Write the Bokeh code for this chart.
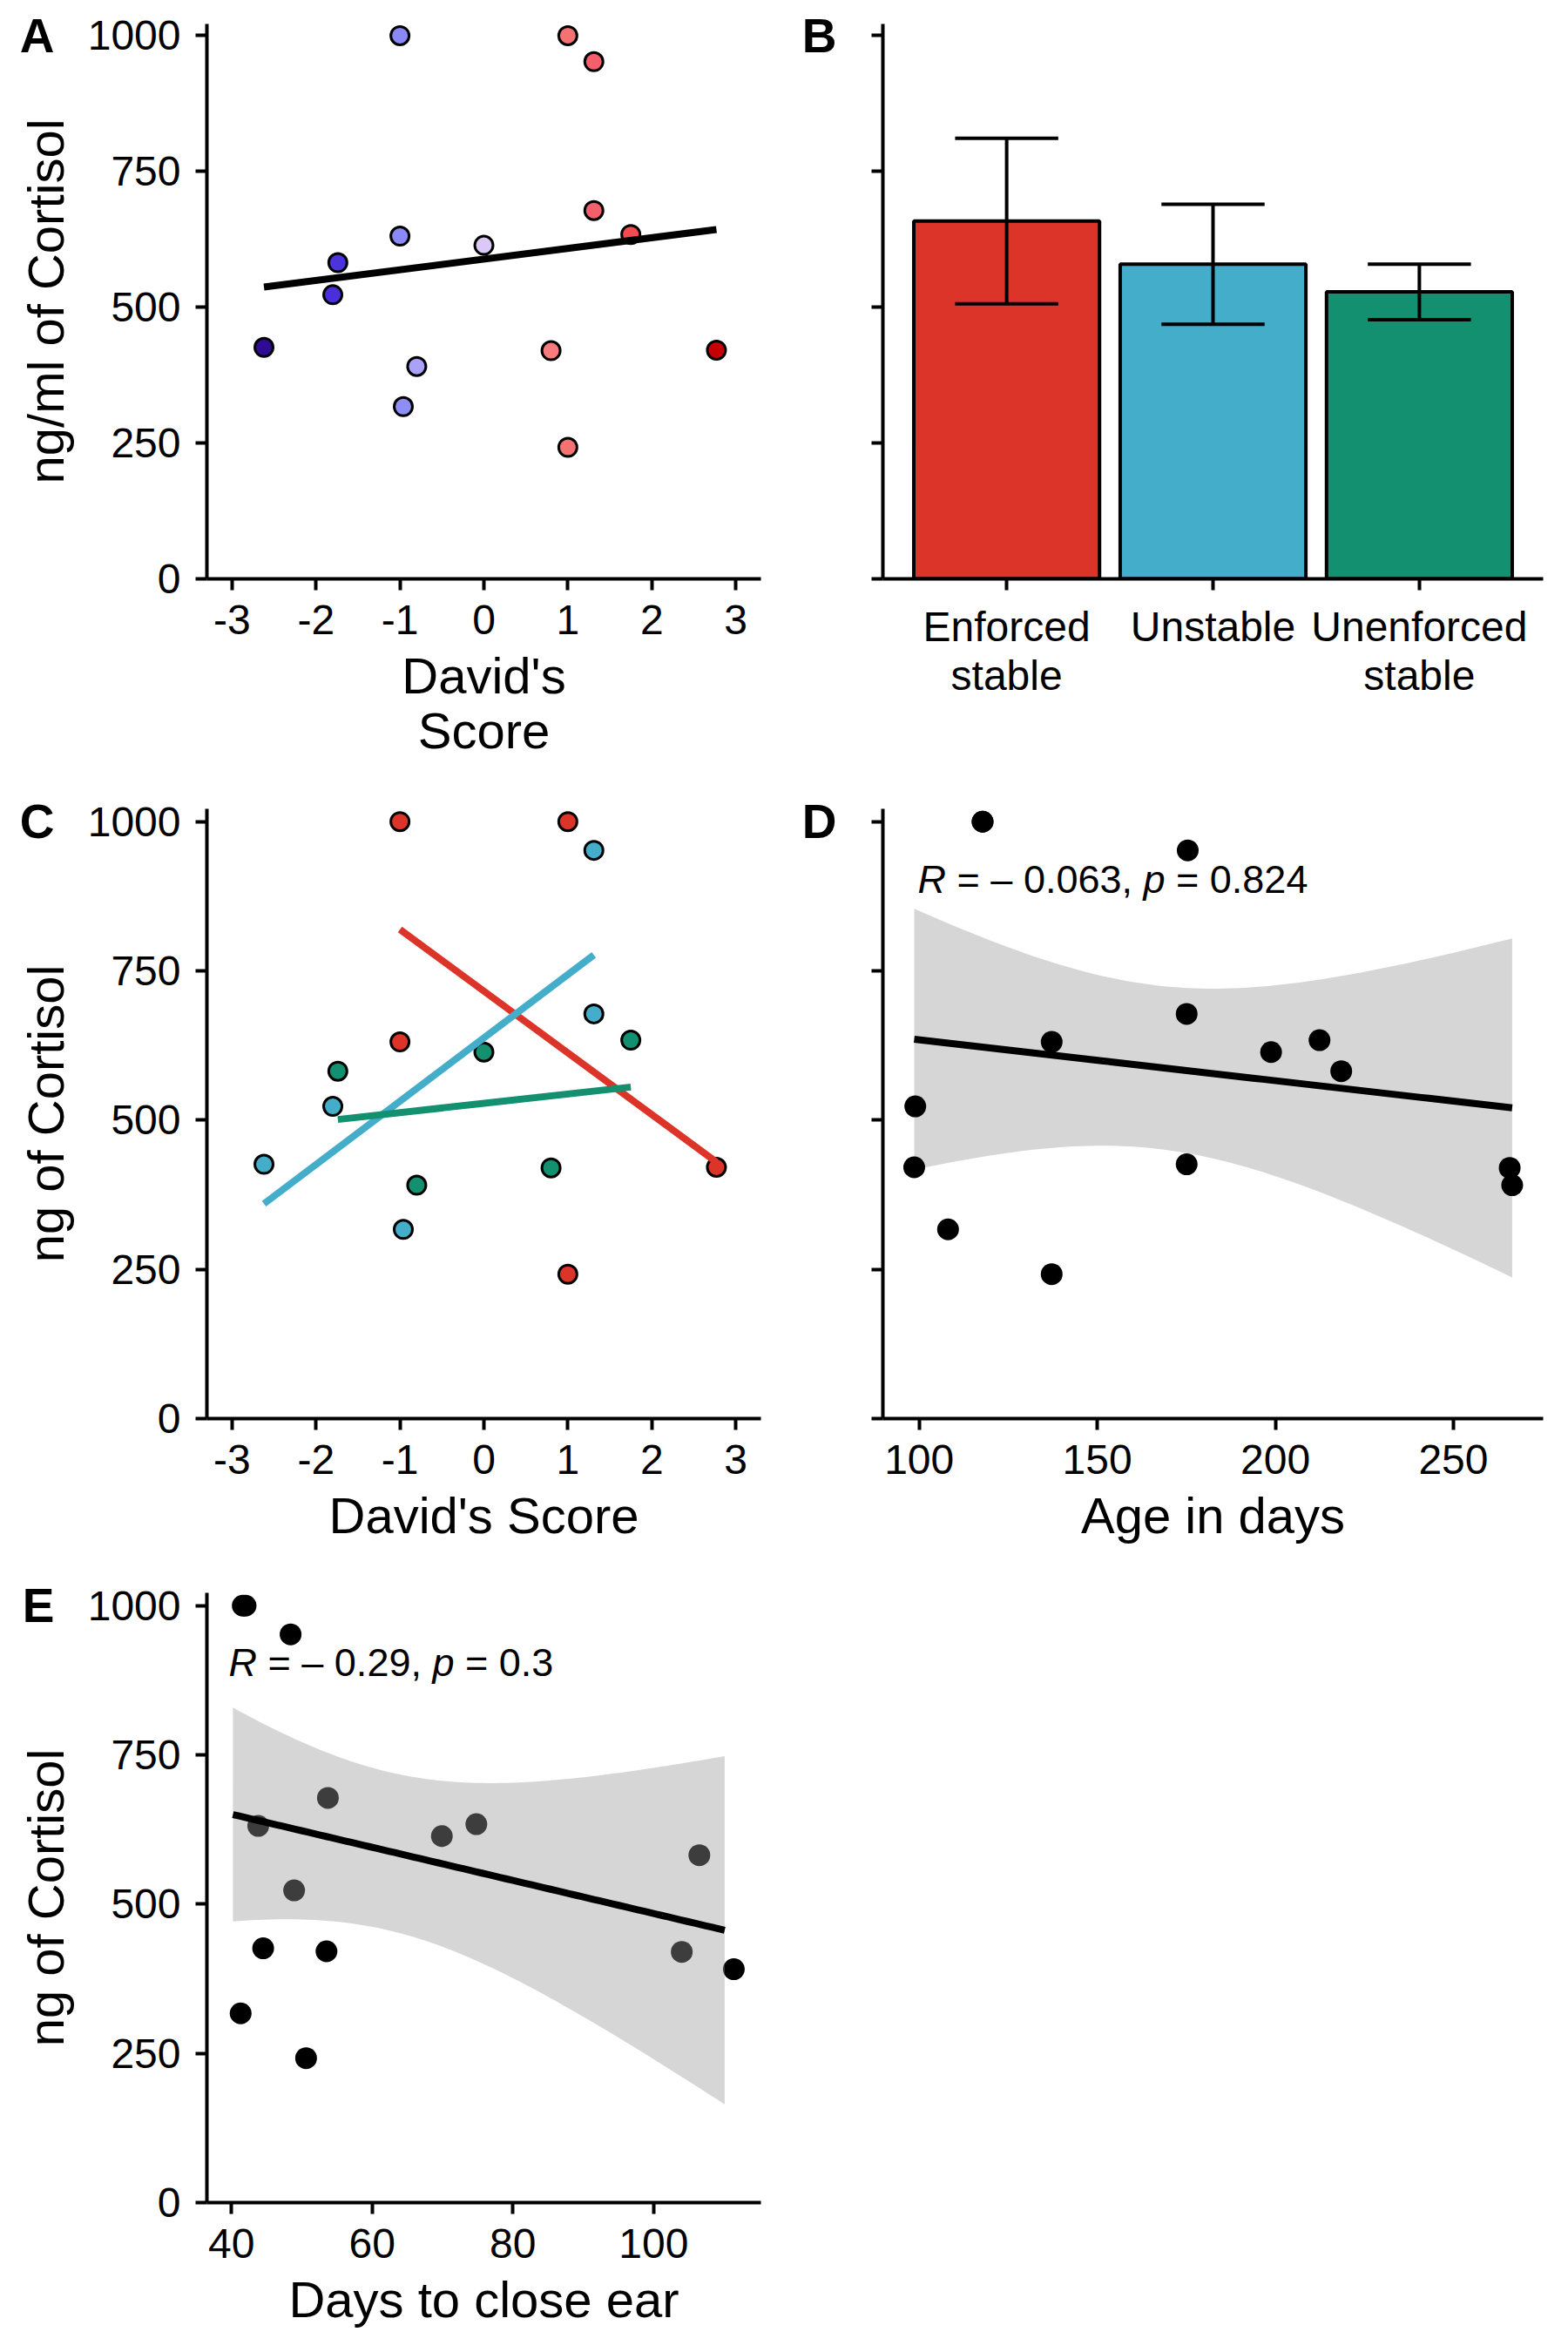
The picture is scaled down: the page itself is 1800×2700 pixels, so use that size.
import numpy as np
from bokeh.plotting import figure
from bokeh.layouts import column, row
from bokeh.models import (Range1d, FactorRange, FixedTicker, ColumnDataSource,
                          LinearColorMapper, CustomJSTickFormatter, LinearAxis)
from bokeh.transform import dodge, factor_cmap, transform
from bokeh.core.properties import value
from bokeh.embed import file_html
from bokeh.resources import INLINE

# ---------------- data ----------------
group_names = ["Enforced stable", "Unstable", "Unenforced stable"]
group_labels = ["Enforced\nstable", "Unstable", "Unenforced\nstable"]

group = ["Enforced stable"] * 5 + ["Unstable"] * 5 + ["Unenforced stable"] * 5
davids_score = [-1.00, 1.00, -1.00, 1.00, 2.77,
                -2.62, -1.80, -0.96, 1.31, 1.31,
                -1.74, -0.80, 0.00, 0.80, 1.75]
cortisol = [1000, 1000, 631, 242, 421,
            426, 523, 317, 952, 678,
            582, 391, 614, 420, 634]
age_days = [117.8, 117.8, 137.2, 137.2, 98.6,
            175.1, 98.9, 108.1, 175.4, 175.1,
            218.5, 266.5, 198.8, 265.8, 212.4]
days_close_ear = [41.6, 42.0, 43.8, 50.6, 53.5,
                  44.5, 48.9, 41.3, 48.4, 53.7,
                  106.5, 111.4, 69.9, 104.0, 74.8]

y_ticks = [0, 250, 500, 750, 1000]
x_ticks_score = [-3, -2, -1, 0, 1, 2, 3]
x_ticks_age = [100, 150, 200, 250]
x_ticks_ear = [40, 60, 80, 100]

stat_d = ("\u2013 0.063", "0.824")
stat_e = ("\u2013 0.29", "0.3")
smooth_span_e = (40.2, 110.1)

# ---------------- styles ----------------
FONT = "Liberation Sans"
group_colors = ["#DD3429", "#43ADCA", "#13906F"]
score_stops = [(-2.62, "#2F0A95"), (-1.77, "#4B31E0"), (-1.0, "#8B8BF7"), (-0.8, "#A9A2F8"),
               (0.0, "#DAC9F6"), (0.8, "#F87C7D"), (1.0, "#F67272"), (1.31, "#F45F6C"),
               (1.75, "#F54B50"), (2.77, "#C70005")]


def build_palette(stops, n=256):
    xs = np.array([s[0] for s in stops])
    rgb = np.array([[int(c[i:i + 2], 16) for i in (1, 3, 5)] for _, c in stops], dtype=float)
    grid = np.linspace(xs[0], xs[-1], n)
    out = []
    for g in grid:
        r, gg, b = (np.interp(g, xs, rgb[:, k]) for k in range(3))
        out.append("#%02X%02X%02X" % (int(round(r)), int(round(gg)), int(round(b))))
    return out, xs[0], xs[-1]


def ols(x, y):
    x = np.asarray(x, float); y = np.asarray(y, float)
    b, a = np.polyfit(x, y, 1)
    return a, b


def ols_band(x, y, xs, t=2.160):
    x = np.asarray(x, float); y = np.asarray(y, float)
    a, b = ols(x, y)
    n = len(x)
    xbar = x.mean()
    sxx = ((x - xbar) ** 2).sum()
    resid = y - (a + b * x)
    s = np.sqrt((resid ** 2).sum() / (n - 2))
    fit = a + b * xs
    se = s * np.sqrt(1.0 / n + (xs - xbar) ** 2 / sxx)
    return fit, fit - t * se, fit + t * se


plain_fmt = CustomJSTickFormatter(code="return tick.toString();")


def make_fig(x_range, left, right, top, bottom, width=900, height=900):
    p = figure(width=width, height=height, x_range=x_range, y_range=Range1d(0, 1021.5),
               output_backend="svg", toolbar_location=None,
               min_border_left=left, min_border_right=right,
               min_border_top=top, min_border_bottom=bottom)
    p.grid.visible = False
    p.outline_line_color = None
    p.background_fill_color = "white"
    p.border_fill_color = "white"
    for ax in p.axis:
        ax.axis_line_width = 4
        ax.axis_line_color = "black"
        ax.major_tick_line_width = 4
        ax.major_tick_line_color = "black"
        ax.major_tick_out = 13
        ax.major_tick_in = 0
        ax.minor_tick_out = 0
        ax.minor_tick_in = 0
        ax.major_label_text_font = FONT
        ax.major_label_text_font_size = "48px"
        ax.major_label_text_color = "black"
        ax.axis_label_text_font = FONT
        ax.axis_label_text_font_size = "58px"
        ax.axis_label_text_font_style = "normal"
        ax.axis_label_text_color = "black"
        ax.axis_label_text_line_height = 0.98
    p.yaxis.ticker = FixedTicker(ticks=y_ticks)
    p.yaxis.formatter = plain_fmt
    p.yaxis.major_label_standoff = 17
    p.yaxis.axis_label_standoff = 13
    p.xaxis.major_label_standoff = 17
    p.xaxis.axis_label_standoff = 12
    return p


CHAR_W = {" ": 0.278, "=": 0.584, "\u2013": 0.556, ".": 0.278, ",": 0.278}


def tw(s, fs):
    return sum(CHAR_W.get(ch, 0.556) for ch in s) * fs


def stat_label(p, x, y, r_val, p_val, fs=45):
    seg = ["R", "= %s," % r_val, "p", "= %s" % p_val]
    sp = CHAR_W[" "] * fs
    offs = [0.0]
    offs.append(offs[-1] + 0.722 * fs + sp)
    offs.append(offs[-1] + tw(seg[1], fs) + sp)
    offs.append(offs[-1] + 0.556 * fs + sp)
    src = ColumnDataSource(dict(x=[x] * 4, y=[y] * 4, t=seg, off=offs,
                                st=["italic", "normal", "italic", "normal"]))
    p.text(x="x", y="y", text="t", x_offset="off", text_font_style="st", source=src,
           text_font=value(FONT), text_font_size="%dpx" % fs, text_baseline="middle",
           text_align="left", text_color="black")


def letter_axis(p, text, standoff):
    # panel tag drawn as the single tick label of an extra, line-less left axis
    ax = LinearAxis(ticker=FixedTicker(ticks=[1000]), major_label_overrides={1000: text},
                    axis_line_color=None, major_tick_line_color=None,
                    major_tick_out=0, major_tick_in=0, minor_tick_out=0, minor_tick_in=0,
                    major_label_text_font=FONT, major_label_text_font_size="55px",
                    major_label_text_font_style="bold", major_label_text_color="black",
                    major_label_standoff=standoff)
    p.add_layout(ax, "left")


src_all = ColumnDataSource(dict(x=davids_score, y=cortisol, g=group,
                                age=age_days, ear=days_close_ear))

# ---------------- Panel A ----------------
pA = make_fig(Range1d(-3.3, 3.3), left=237, right=27, top=27, bottom=236)
pA.xaxis.ticker = FixedTicker(ticks=x_ticks_score)
pA.xaxis.formatter = plain_fmt
pA.xaxis.axis_label = "David's\nScore"
pA.yaxis.axis_label = "ng/ml of Cortisol"
pal, lo, hi = build_palette(score_stops)
mapper = LinearColorMapper(palette=pal, low=lo, high=hi)
pA.scatter("x", "y", source=src_all, size=21, fill_color=transform("x", mapper),
           line_color="black", line_width=3)
a, b = ols(davids_score, cortisol)
xs = np.array([min(davids_score), max(davids_score)])
pA.line(xs, a + b * xs, line_color="black", line_width=8)
letter_axis(pA, "A", -46)

# ---------------- Panel B ----------------
cort = np.array(cortisol, float)
grp = np.array(group)
means = [cort[grp == g].mean() for g in group_names]
ses = [cort[grp == g].std(ddof=1) / np.sqrt((grp == g).sum()) for g in group_names]
src_b = ColumnDataSource(dict(g=group_labels, m=means,
                              lo=[m - s for m, s in zip(means, ses)],
                              hi=[m + s for m, s in zip(means, ses)],
                              c=group_colors))
xr_b = FactorRange(factors=group_labels, range_padding=0.1, range_padding_units="absolute")
pB = make_fig(xr_b, left=113, right=29, top=27, bottom=227)
pB.yaxis.major_label_overrides = {t: "" for t in y_ticks}
pB.xaxis.major_label_text_line_height = 1.06
pB.xaxis.major_label_standoff = 15
pB.vbar(x="g", top="m", width=0.9, source=src_b, fill_color="c",
        line_color="black", line_width=4)
pB.segment(x0="g", y0="lo", x1="g", y1="hi", source=src_b, line_color="black", line_width=4)
for col in ("lo", "hi"):
    pB.segment(x0=dodge("g", -0.25, range=xr_b), y0=col, x1=dodge("g", 0.25, range=xr_b), y1=col,
               source=src_b, line_color="black", line_width=4)
letter_axis(pB, "B", 40)

# ---------------- Panel C ----------------
pC = make_fig(Range1d(-3.3, 3.3), left=237, right=27, top=28, bottom=172)
pC.xaxis.ticker = FixedTicker(ticks=x_ticks_score)
pC.xaxis.formatter = plain_fmt
pC.xaxis.axis_label = "David's Score"
pC.yaxis.axis_label = "ng of Cortisol"
pC.scatter("x", "y", source=src_all, size=21,
           fill_color=factor_cmap("g", palette=group_colors, factors=group_names),
           line_color="black", line_width=3)
ds = np.array(davids_score, float)
for gname, col in zip(group_names, group_colors):
    m = grp == gname
    a, b = ols(ds[m], cort[m])
    xs = np.array([ds[m].min(), ds[m].max()])
    pC.line(xs, a + b * xs, line_color=col, line_width=8)
letter_axis(pC, "C", -46)

# ---------------- Panel D ----------------
pD = make_fig(Range1d(89.8, 275.2), left=113, right=29, top=28, bottom=172)
pD.xaxis.ticker = FixedTicker(ticks=x_ticks_age)
pD.xaxis.formatter = plain_fmt
pD.xaxis.axis_label = "Age in days"
pD.yaxis.major_label_overrides = {t: "" for t in y_ticks}
age = np.array(age_days, float)
xs = np.linspace(age.min(), age.max(), 80)
fit, lo_b, hi_b = ols_band(age, cort, xs)
pD.varea(x=xs, y1=lo_b, y2=hi_b, fill_color="#999999", fill_alpha=0.4)
pD.line(xs, fit, line_color="black", line_width=8)
pD.scatter("age", "y", source=src_all, size=25, fill_color="black", line_color=None)
stat_label(pD, 99.6, 904, *stat_d)
letter_axis(pD, "D", 40)

# ---------------- Panel E ----------------
pE = make_fig(Range1d(36.5, 115.25), left=237, right=27, top=28, bottom=172)
pE.xaxis.ticker = FixedTicker(ticks=x_ticks_ear)
pE.xaxis.formatter = plain_fmt
pE.xaxis.axis_label = "Days to close ear"
pE.yaxis.axis_label = "ng of Cortisol"
ear = np.array(days_close_ear, float)
pE.scatter("ear", "y", source=src_all, size=25, fill_color="black", line_color=None)
xs = np.linspace(smooth_span_e[0], smooth_span_e[1], 80)
fit, lo_b, hi_b = ols_band(ear, cort, xs)
pE.varea(x=xs, y1=lo_b, y2=hi_b, fill_color="#999999", fill_alpha=0.4)
pE.line(xs, fit, line_color="black", line_width=8)
stat_label(pE, 39.6, 905, *stat_e)
letter_axis(pE, "E", -46)

layout = column(row(pA, pB), row(pC, pD), pE)
open("out.html", "w").write(file_html(layout, INLINE))
